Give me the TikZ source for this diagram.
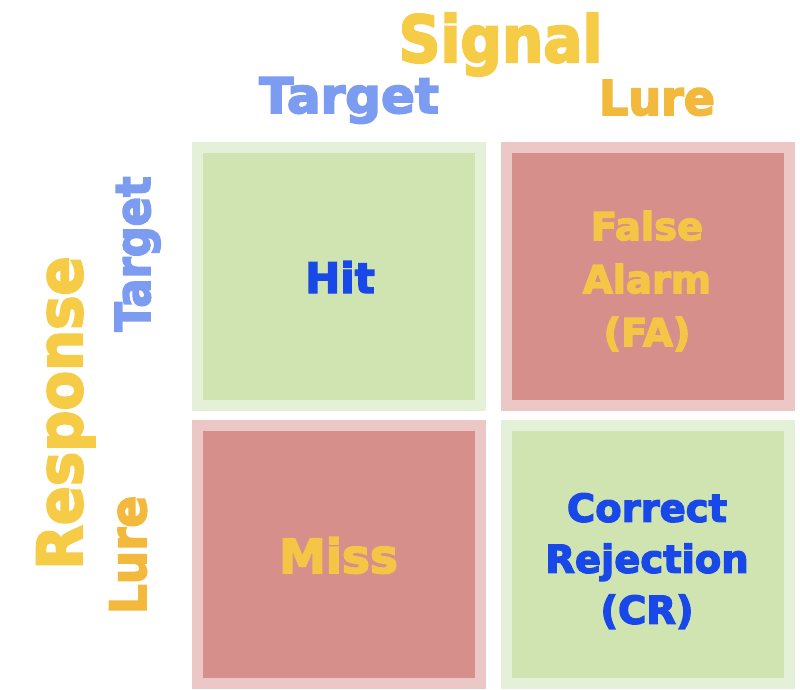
\documentclass[tikz,border=0pt]{standalone}
\usepackage{fontspec}
\newfontfamily\hv[FakeBold=3.5]{DejaVu Sans Bold}
\definecolor{sigY}{HTML}{F6CB45}
\definecolor{lureY}{HTML}{F2B93C}
\definecolor{tgtB}{HTML}{7B9CF1}
\definecolor{dkB}{HTML}{1848E8}
\definecolor{cellG}{HTML}{D0E4B1}
\definecolor{cellGo}{HTML}{E5F0D8}
\definecolor{cellR}{HTML}{D68F8A}
\definecolor{cellRo}{HTML}{EBC7C5}
\definecolor{txtY}{HTML}{F5C646}
\tikzset{
  cell/.style={minimum width=283pt, minimum height=258pt, line width=11pt, inner sep=0pt},
  goodcell/.style={cell, fill=cellG, draw=cellGo},
  badcell/.style={cell, fill=cellR, draw=cellRo},
  lbl/.style={inner sep=0pt, anchor=base},
  celltext/.style={inner sep=0pt, align=center},
}
\begin{document}
\begin{tikzpicture}[x=1pt,y=-1pt]
\useasboundingbox[fill=white] (0,0) rectangle (800,690);
% cells
\node[goodcell] (hit) at (339,276.5) {};
\node[badcell]  (fa)  at (647.5,276.5) {};
\node[badcell]  (miss) at (339,554) {};
\node[goodcell] (cr)  at (647.5,554) {};
% cell texts
\node[lbl, text=dkB, font=\hv\fontsize{42}{42}\selectfont] (hitT) at (340,293) {Hit};
\node[celltext, text=txtY, font=\hv\fontsize{38.5}{53}\selectfont] (faT) at (647,281) {False\\Alarm\\(FA)};
\node[lbl, text=txtY, font=\hv\fontsize{47}{47}\selectfont] (missT) at (338.5,573) {Miss};
\node[celltext, text=dkB, font=\hv\fontsize{38.5}{51}\selectfont] (crT) at (647,561) {Correct\\Rejection\\(CR)};
% headers
\node[lbl, text=sigY, font=\hv\fontsize{64.5}{64.5}\selectfont, xscale=0.9] (signal) at (500.5,62) {Signal};
\node[lbl, text=tgtB, font=\hv\fontsize{49}{49}\selectfont, xscale=1.02] (tgtTop) at (349,113) {Target};
\node[lbl, text=lureY, font=\hv\fontsize{48}{48}\selectfont, xscale=0.96] (lureTop) at (657,115) {Lure};
% left labels
\node[lbl, text=sigY, font=\hv\fontsize{62}{62}\selectfont, rotate=90, xscale=0.93] (resp) at (82,413) {Response};
\node[lbl, text=tgtB, font=\hv\fontsize{48}{48}\selectfont, rotate=90, xscale=0.9] (tgtLeft) at (150,254) {Target};
\node[lbl, text=lureY, font=\hv\fontsize{50}{50}\selectfont, rotate=90, xscale=0.94] (lureLeft) at (146,555) {Lure};
\end{tikzpicture}
\end{document}
